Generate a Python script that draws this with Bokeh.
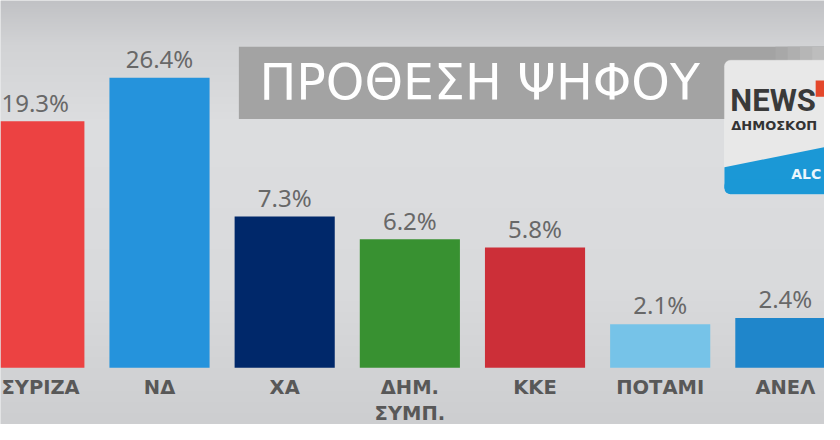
import numpy as np
from bokeh.plotting import figure
from bokeh.models import (Range1d, ColumnDataSource, CustomJSTransform, Label,
                          BoxAnnotation, PolyAnnotation)
from bokeh.transform import transform
from bokeh.core.properties import value
from bokeh.embed import file_html
from bokeh.resources import INLINE

# ---------------- data ----------------
parties = ["ΣΥΡΙΖΑ", "ΝΔ", "ΧΑ", "ΔΗΜ.\nΣΥΜΠ.", "ΚΚΕ", "ΠΟΤΑΜΙ", "ΑΝΕΛ"]
shares = [19.3, 26.4, 7.3, 6.2, 5.8, 2.1, 2.4]
bar_colors = ["#ec4242", "#2593dc", "#00286a", "#389131", "#cc2f38", "#76c3e8", "#1f86cb"]
title_text = "ΠΡΟΘΕΣΗ ΨΗΦΟΥ"
logo_word = "NEWS"
logo_sub = "ΔΗΜΟΣΚΟΠ"
logo_band = "ALC"

# ---------------- layout (design pixels of an 840x440 board) ----------------
W, H = 824, 424            # figure size (page has 8px margin)
DW, DH = 840, 440          # design board size
SX, SY = W / DW, H / DH
SLOT = 127.6               # design px per party slot
FIRST = 34.5               # design px, centre of first slot
PX_UNIT = 21.5             # design px per display unit
BASE = 381                 # design px, bar baseline from top
ALPHA_SHIFT = 0.36         # em, correction for alphabetic baseline placement


def dx(px):
    return (px - FIRST) / SLOT


def dy(px):
    return (BASE - px) / PX_UNIT


p = figure(width=W, height=H, x_range=Range1d(dx(0), dx(DW)), y_range=Range1d(dy(DH), dy(0)),
           output_backend="svg", toolbar_location=None, min_border=0,
           x_axis_location=None, y_axis_location=None)
p.xgrid.grid_line_color = None
p.ygrid.grid_line_color = None
p.outline_line_color = None
p.background_fill_color = "#d8d9db"
p.border_fill_color = "#d8d9db"

# background vertical gradient
stop_px = [0, 45, 130, 300, 440]
stop_rgb = [(193, 194, 197), (210, 211, 213), (221, 222, 224), (217, 218, 220), (205, 206, 208)]
rows_px = (H - 1 - np.arange(H)) / SY  # row 0 is bottom, in design px
rgba = np.zeros((H, 2, 4), dtype=np.uint8)
for c in range(3):
    col = np.interp(rows_px, stop_px, [s[c] for s in stop_rgb])
    rgba[:, :, c] = col.astype(np.uint8)[:, None]
rgba[:, :, 3] = 255
img = rgba.view(dtype=np.uint32).reshape((H, 2))
p.image_rgba(image=[img], x=dx(0), y=dy(DH), dw=dx(DW) - dx(0), dh=dy(0) - dy(DH), level="image")

# ---------------- bars ----------------
n = len(parties)
idx = list(range(n))
# a centred label too close to the left edge is pinned to the edge instead
pinned = [FIRST + SLOT * i < 45 for i in idx]
label_x = [dx(1) if pin else i for i, pin in zip(idx, pinned)]
label_align = ["left" if pin else "center" for pin in pinned]

src = ColumnDataSource(dict(
    x=idx,
    lx=label_x,
    align=label_align,
    share=shares,
    color=bar_colors,
    label=[f"{v:.1f}%" for v in shares],
    party=parties,
))

# broadcast-style compressed scale above the break (as in the original graphic)
compress = CustomJSTransform(
    args=dict(brk=8.8, k=0.295),
    func="return x <= brk ? x : brk + (x - brk) * k;",
    v_func="""
const out = new Array(xs.length);
for (let i = 0; i < xs.length; i++) {
  const v = xs[i];
  out[i] = v <= brk ? v : brk + (v - brk) * k;
}
return out;
""",
)

p.vbar(x="x", top=transform("share", compress), bottom=0, width=0.8,
       fill_color="color", line_color=None, source=src)

VAL_FS = 24
p.text(x="lx", y=transform("share", compress), text="label",
       y_offset=-(10.5 + ALPHA_SHIFT * VAL_FS),
       text_align="align", text_baseline="alphabetic",
       text_font=value("Noto Sans"), text_font_size=f"{VAL_FS}px", text_color="#686868", source=src)

p.text(x="lx", y=0, text="party", y_offset=8.5,
       text_align="align", text_baseline="top",
       text_font=value("DejaVu Sans"), text_font_style="bold", text_font_size="19.5px",
       text_color="#585858", text_line_height=1.14, source=src)

# ---------------- title banner ----------------
p.add_layout(BoxAnnotation(left=dx(243), right=dx(DW + 20), top=dy(48), bottom=dy(123),
                           fill_color="#a3a3a3", fill_alpha=1, line_alpha=0, level="underlay"))
# lighter fade towards the right end of the banner (overlapping steps, no seams)
fade_cols = ["#a8a8a8", "#afafaf", "#b6b6b6", "#bdbdbd"]
for j, fc in enumerate(fade_cols):
    p.add_layout(BoxAnnotation(left=dx(790 + 12.5 * j), right=dx(DW + 20),
                               top=dy(48), bottom=dy(123), fill_color=fc, fill_alpha=1,
                               line_alpha=0, level="underlay"))
TITLE_FS = 49
p.add_layout(Label(x=dx(264), y=dy(103.5 - ALPHA_SHIFT * TITLE_FS / SY), text=title_text,
                   text_font="DejaVu Sans", text_font_size=f"{TITLE_FS}px", text_color="white",
                   text_baseline="alphabetic"))

# ---------------- logo ----------------
BLUE = "#1b98d6"
p.add_layout(BoxAnnotation(left=dx(738), right=dx(DW + 20), top=dy(62), bottom=dy(201),
                           fill_color="#e8e8e8", fill_alpha=1, line_color="#f6f6f6",
                           line_width=1, border_radius=6))
p.add_layout(PolyAnnotation(xs=[dx(738), dx(DW + 20), dx(DW + 20), dx(738)],
                            ys=[dy(173), dy(148), dy(195), dy(195)],
                            fill_color=BLUE, fill_alpha=1, line_alpha=0))
p.add_layout(BoxAnnotation(left=dx(738), right=dx(DW + 20), top=dy(186), bottom=dy(201),
                           fill_color=BLUE, fill_alpha=1, line_alpha=0, border_radius=6))
p.add_layout(BoxAnnotation(left=dx(831), right=dx(DW + 20), top=dy(83), bottom=dy(100),
                           fill_color="#e4472b", fill_alpha=1, line_alpha=0))
NEWS_FS = 31
p.add_layout(Label(x=dx(744), y=dy(115 - ALPHA_SHIFT * NEWS_FS / SY), text=logo_word,
                   text_font="Roboto", text_font_style="bold", text_font_size=f"{NEWS_FS}px",
                   text_color="#3a3a3a", text_baseline="alphabetic"))
SUB_FS = 13
p.add_layout(Label(x=dx(745), y=dy(135 - ALPHA_SHIFT * SUB_FS / SY), text=logo_sub,
                   text_font="DejaVu Sans", text_font_style="bold", text_font_size=f"{SUB_FS}px",
                   text_color="#333333", text_baseline="alphabetic"))
BAND_FS = 14
p.add_layout(Label(x=dx(806), y=dy(185 - ALPHA_SHIFT * BAND_FS / SY), text=logo_band,
                   text_font="DejaVu Sans", text_font_style="bold", text_font_size=f"{BAND_FS}px",
                   text_color="#eaf6fc", text_baseline="alphabetic"))

open("out.html", "w").write(file_html(p, INLINE))
